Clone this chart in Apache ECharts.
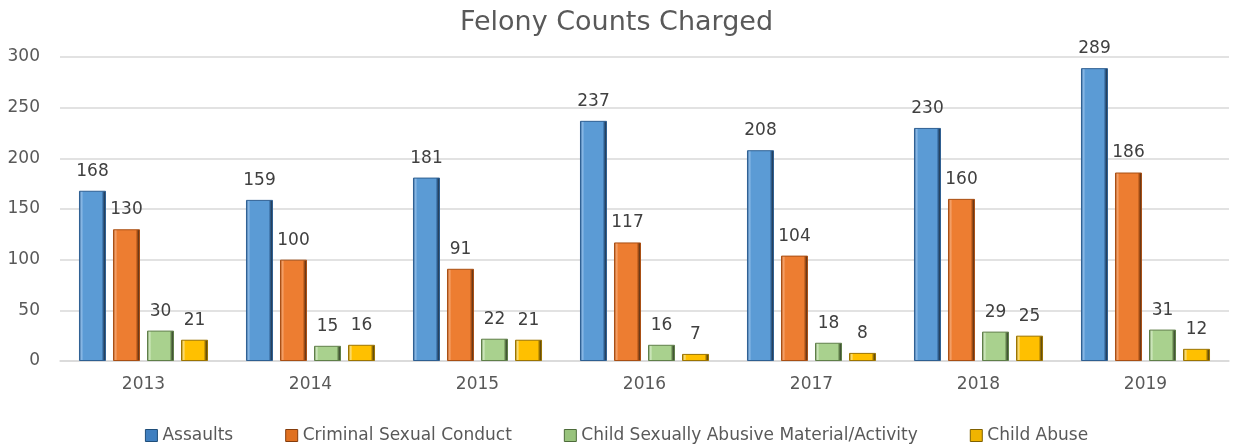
<!DOCTYPE html>
<html>
<head>
<meta charset="utf-8">
<script src="https://cdn.jsdelivr.net/npm/echarts@6/dist/echarts.min.js"></script>
<style>
  html, body { margin: 0; padding: 0; background: #fff; }
  #chart { width: 1233px; height: 444px; }
</style>
</head>
<body>
<div id="chart"></div>
<script>
var years = ["2013", "2014", "2015", "2016", "2017", "2018", "2019"];
var assaults = [168, 159, 181, 237, 208, 230, 289];
var sexualConduct = [130, 100, 91, 117, 104, 160, 186];
var abusiveMaterial = [30, 15, 22, 16, 18, 29, 31];
var childAbuse = [21, 16, 21, 7, 8, 25, 12];
var yTicks = { min: 0, max: 300, interval: 50 };

var FONT = "DejaVu Sans";

// bevel look: dark edges, light rim, flat face
function bevel(dark, light, face) {
  return new echarts.graphic.LinearGradient(0, 0, 1, 0, [
    { offset: 0, color: dark },
    { offset: 0.1, color: light },
    { offset: 0.16, color: face },
    { offset: 0.84, color: face },
    { offset: 0.9, color: dark },
    { offset: 1, color: "#1f1f1f" },
  ]);
}

function makeSeries(name, data, dark, light, face) {
  return {
    name: name,
    type: "bar",
    data: data,
    barWidth: 27,
    barGap: "26%",
    itemStyle: {
      color: bevel(dark, light, face),
      borderColor: dark,
      borderWidth: 1,
    },
    label: {
      show: true,
      position: "top",
      distance: 11,
      color: "#404040",
      fontSize: 17,
      fontFamily: FONT,
    },
  };
}

var myChart = echarts.init(document.getElementById("chart"));
var option = {
  backgroundColor: "#fff",
  animation: false,
  title: {
    text: "Felony Counts Charged",
    left: "center",
    top: 4,
    textStyle: {
      color: "#595959",
      fontSize: 27,
      fontWeight: "normal",
      fontFamily: FONT,
    },
  },
  legend: {
    top: 422,
    left: "center",
    icon: "rect",
    itemWidth: 12,
    itemHeight: 12,
    itemGap: 52,
    textStyle: { color: "#595959", fontSize: 17, fontFamily: FONT },
    data: [
      { name: "Assaults", itemStyle: { color: "#3f7fc0", borderColor: "#1f4e79", borderWidth: 1 } },
      { name: "Criminal Sexual Conduct", itemStyle: { color: "#e07020", borderColor: "#843c0c", borderWidth: 1 } },
      { name: "Child Sexually Abusive Material/Activity", itemStyle: { color: "#98c37c", borderColor: "#4d6b3a", borderWidth: 1 } },
      { name: "Child Abuse", itemStyle: { color: "#f0b400", borderColor: "#7f6000", borderWidth: 1 } },
    ],
  },
  grid: { left: 60, right: 4, top: 57, bottom: 83 },
  xAxis: {
    type: "category",
    data: years,
    axisTick: { show: false },
    axisLine: { lineStyle: { color: "#d9d9d9", width: 1.5 } },
    axisLabel: { color: "#595959", fontSize: 17, fontFamily: FONT, margin: 15 },
  },
  yAxis: {
    type: "value",
    min: yTicks.min,
    max: yTicks.max,
    interval: yTicks.interval,
    axisLine: { show: false },
    axisTick: { show: false },
    splitLine: { lineStyle: { color: "#d9d9d9", width: 1.5 } },
    axisLabel: { color: "#595959", fontSize: 17, fontFamily: FONT, margin: 20 },
  },
  series: [
    makeSeries("Assaults", assaults, "#2e5f92", "#8cbbe8", "#5b9bd5"),
    makeSeries("Criminal Sexual Conduct", sexualConduct, "#a94f14", "#f7a46c", "#ed7d31"),
    makeSeries("Child Sexually Abusive Material/Activity", abusiveMaterial, "#5f7f49", "#d3ecc2", "#a9d18e"),
    makeSeries("Child Abuse", childAbuse, "#9c7400", "#ffe27a", "#ffc000"),
  ],
};
option && myChart.setOption(option);
</script>
</body>
</html>
